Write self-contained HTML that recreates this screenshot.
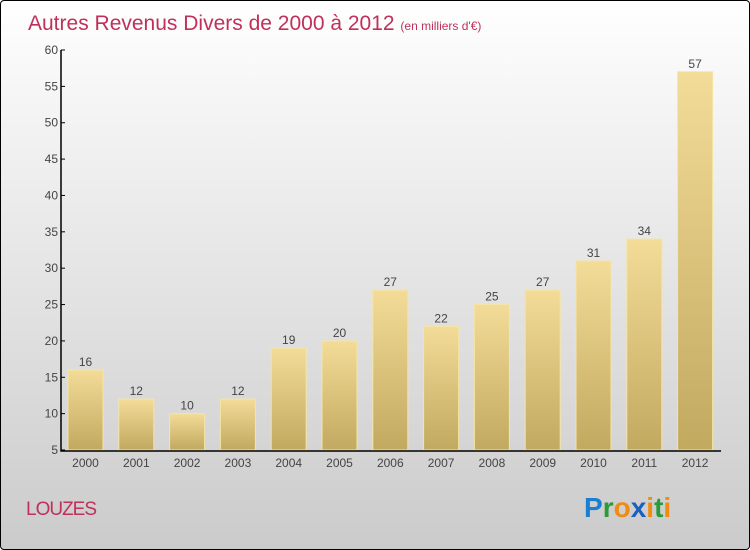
<!DOCTYPE html>
<html><head><meta charset="utf-8"><style>
body{margin:0}
#c{position:relative;width:748px;height:548px;border:1px solid #000;border-radius:4px;background:linear-gradient(#fff,#f4f4f4 20%,#cbcbcb);font-family:"Liberation Sans",sans-serif;overflow:hidden}
</style></head><body>
<div id="c">
<svg width="748" height="548">
<defs><linearGradient id="g" x1="0" y1="0" x2="0" y2="1"><stop offset="0" stop-color="#f3dc98"/><stop offset="1" stop-color="#c2a960"/></linearGradient></defs>
<text x="27" y="29" font-size="21" fill="#c0305a">Autres Revenus Divers de 2000 à 2012 <tspan font-size="12">(en milliers d'€)</tspan></text>
<text x="25" y="514" font-size="19" fill="#c0305a" letter-spacing="-1">LOUZES</text>
<text x="583" y="516" font-size="28" font-weight="bold"><tspan fill="#1a7fd0">P</tspan><tspan fill="#2a9a3a">r</tspan><tspan fill="#f08a10">o</tspan><tspan fill="#1a60c0">x</tspan><tspan fill="#f08a10">i</tspan><tspan fill="#2a9a3a">t</tspan><tspan fill="#f08a10">i</tspan></text>
<g id="plot"></g>
</svg></div>
<script>
const years=["2000","2001","2002","2003","2004","2005","2006","2007","2008","2009","2010","2011","2012"];
const values=[16,12,10,12,19,20,27,22,25,27,31,34,57];
const ticks=[5,10,15,20,25,30,35,40,45,50,55,60];
const NS="http://www.w3.org/2000/svg",g=document.getElementById('plot');
const y=v=>449-(v-5)*400/55, x=i=>67+i*50.8;
function mk(t,a){const e=document.createElementNS(NS,t);for(const k in a)e.setAttribute(k,a[k]);g.appendChild(e);return e;}
values.forEach((v,i)=>{
 const r=mk('rect',{x:x(i),y:y(v),width:35,height:y(5)-y(v),fill:'url(#g)',stroke:'#f5e4a8','stroke-width':1});
 
 
 const t=mk('text',{x:x(i)+17.5,y:y(v)-4,'font-size':12,fill:'#444','text-anchor':'middle'});t.textContent=v;
 
 
 const l=mk('text',{x:x(i)+17.5,y:466,'font-size':12,fill:'#444','text-anchor':'middle'});l.textContent=years[i];
 
 
});
const ax=mk('path',{d:'M60 49V450H720',stroke:'#000','stroke-width':1.5,fill:'none'});


ticks.forEach(v=>{
 mk('line',{x1:60,x2:64,y1:y(v),y2:y(v),stroke:'#000'});
 const t=mk('text',{x:57,y:y(v)+4,'font-size':12,fill:'#444','text-anchor':'end'});t.textContent=v;
 
 
});
</script></body></html>
